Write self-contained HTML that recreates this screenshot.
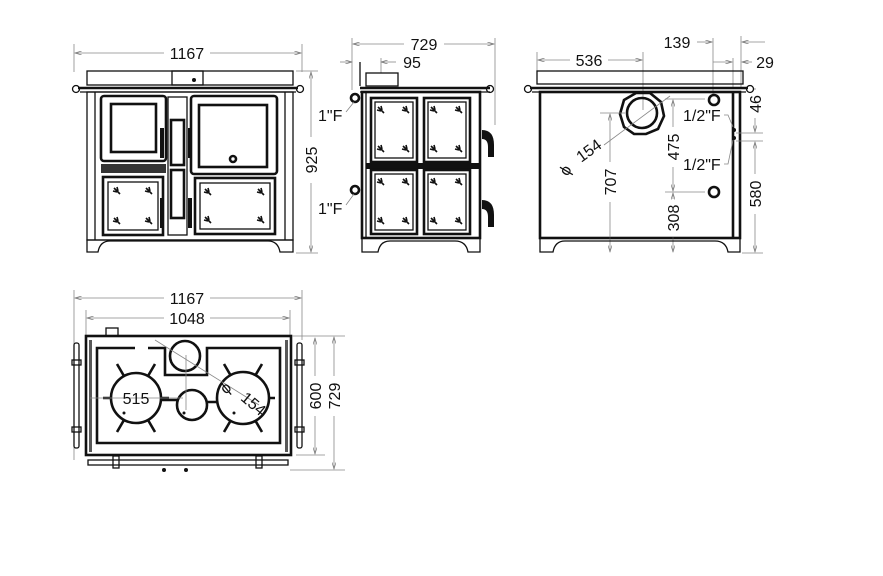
<!DOCTYPE html>
<html><head><meta charset="utf-8"><style>
html,body{margin:0;padding:0;background:#fff}
svg{display:block}
text{font-family:"Liberation Sans",sans-serif;font-size:16px;fill:#111}
.m{text-anchor:middle}
.d{stroke:#888;stroke-width:0.8;fill:none}
.k{stroke:#111;fill:none;stroke-width:1.3}
.K{stroke:#111;fill:none;stroke-width:2.6}
.f{fill:#111}
</style></head><body>
<svg width="883" height="576" viewBox="0 0 883 576" xmlns="http://www.w3.org/2000/svg">
<defs>
<marker id="a" viewBox="0 0 10 6" refX="10" refY="3" markerWidth="9" markerHeight="5" orient="auto-start-reverse"><path d="M0,0 L10,3 L0,6" fill="none" stroke="#777" stroke-width="1"/></marker>
<g id="leaf"><path d="M0,0 l6,6 M3,-1 l1,4 M-1,3 l4,1" stroke="#111" stroke-width="1.6"/></g>
<g id="panel"><rect x="0" y="0" width="46" height="64" class="K"/><rect x="4" y="4" width="38" height="56" class="k"/>
<use href="#leaf" x="7" y="9"/><use href="#leaf" x="32" y="9"/><use href="#leaf" x="7" y="48"/><use href="#leaf" x="32" y="48"/></g>
</defs>

<!-- ============ FRONT VIEW ============ -->
<line x1="74" y1="44" x2="74" y2="72" class="d"/><line x1="302" y1="44" x2="302" y2="72" class="d"/>
<line x1="75" y1="53" x2="164" y2="53" class="d" marker-start="url(#a)"/><line x1="210" y1="53" x2="301" y2="53" class="d" marker-end="url(#a)"/>
<text x="187" y="59" class="m">1167</text>
<rect x="87" y="71" width="206" height="14" class="k"/>
<rect x="172" y="71" width="31" height="14" class="k"/><circle cx="194" cy="80" r="2" class="f"/>
<line x1="78" y1="88" x2="298" y2="88" class="K"/><line x1="80" y1="92" x2="296" y2="92" class="k"/>
<circle cx="76" cy="89" r="3.5" class="k"/><circle cx="300" cy="89" r="3.5" class="k"/>
<rect x="87" y="92" width="206" height="148" class="k"/>
<line x1="95" y1="92" x2="95" y2="240" class="k"/><line x1="285" y1="92" x2="285" y2="240" class="k"/>
<rect x="101" y="96" width="65" height="65" rx="3" class="K"/><rect x="111" y="104" width="45" height="48" class="K"/>
<rect x="101" y="164" width="65" height="9" class="f" opacity="0.85"/>
<rect x="103" y="177" width="60" height="58" class="K"/><rect x="108" y="182" width="50" height="48" class="k"/>
<use href="#leaf" x="114" y="188"/><use href="#leaf" x="146" y="188"/><use href="#leaf" x="114" y="218"/><use href="#leaf" x="146" y="218"/>
<rect x="168" y="97" width="19" height="138" class="k"/><rect x="171" y="120" width="13" height="45" class="K"/><rect x="171" y="170" width="13" height="48" class="K"/>
<rect x="160" y="128" width="4" height="30" class="f"/><rect x="188" y="128" width="4" height="30" class="f"/>
<rect x="160" y="198" width="4" height="30" class="f"/><rect x="188" y="198" width="4" height="30" class="f"/>
<rect x="191" y="96" width="86" height="78" rx="3" class="K"/><rect x="199" y="105" width="68" height="62" class="K"/>
<circle cx="233" cy="159" r="3" class="K"/>
<rect x="195" y="178" width="80" height="56" class="K"/><rect x="200" y="183" width="70" height="46" class="k"/>
<use href="#leaf" x="205" y="189"/><use href="#leaf" x="258" y="189"/><use href="#leaf" x="205" y="217"/><use href="#leaf" x="258" y="217"/>
<path d="M87,240 H293 V252 H280 Q278,241 268,241 H110 Q100,241 98,252 H87 Z" class="k"/>
<line x1="296" y1="71" x2="318" y2="71" class="d"/><line x1="296" y1="253" x2="318" y2="253" class="d"/>
<line x1="311" y1="72" x2="311" y2="137" class="d" marker-start="url(#a)"/><line x1="311" y1="183" x2="311" y2="252" class="d" marker-end="url(#a)"/>
<text transform="translate(317,160) rotate(-90)" class="m">925</text>

<!-- ============ SIDE VIEW ============ -->
<line x1="352" y1="38" x2="352" y2="90" class="d"/><line x1="495" y1="38" x2="495" y2="125" class="d"/>
<line x1="353" y1="44" x2="404" y2="44" class="d" marker-start="url(#a)"/><line x1="444" y1="44" x2="494" y2="44" class="d" marker-end="url(#a)"/>
<text x="424" y="50" class="m">729</text>
<line x1="340" y1="62" x2="352" y2="62" class="d" marker-end="url(#a)"/><line x1="381" y1="62" x2="396" y2="62" class="d" marker-start="url(#a)"/>
<line x1="381" y1="58" x2="381" y2="73" class="d"/>
<text x="412" y="68" class="m">95</text>
<rect x="366" y="73" width="32" height="13" class="k"/>
<line x1="360" y1="62" x2="360" y2="86" class="k"/>
<line x1="360" y1="88" x2="490" y2="88" class="K"/><line x1="360" y1="92" x2="490" y2="92" class="k"/>
<circle cx="490" cy="89" r="3.5" class="k"/>
<rect x="362" y="92" width="118" height="146" class="K"/>
<line x1="366" y1="92" x2="366" y2="238" class="k"/>
<use href="#panel" x="371" y="98"/><use href="#panel" x="424" y="98"/>
<rect x="366" y="163" width="114" height="6" class="f"/>
<use href="#panel" x="371" y="170"/><use href="#panel" x="424" y="170"/>
<path d="M482,130 q12,0 12,15 v12 h-6 v-10 q0,-8 -6,-8 Z" class="f"/>
<path d="M482,200 q12,0 12,15 v12 h-6 v-10 q0,-8 -6,-8 Z" class="f"/>
<circle cx="355" cy="98" r="4" class="K"/><circle cx="355" cy="190" r="4" class="K"/>
<line x1="346" y1="112" x2="354" y2="102" class="d"/><line x1="346" y1="205" x2="354" y2="194" class="d"/>
<text x="318" y="121">1"F</text><text x="318" y="214">1"F</text>
<path d="M362,238 H480 V252 H468 Q466,241 455,241 H390 Q380,241 378,252 H362 Z" class="k"/>

<!-- ============ BACK VIEW ============ -->
<line x1="537" y1="52" x2="537" y2="72" class="d"/><line x1="643" y1="52" x2="643" y2="110" class="d"/>
<line x1="538" y1="60" x2="570" y2="60" class="d" marker-start="url(#a)"/><line x1="608" y1="60" x2="642" y2="60" class="d" marker-end="url(#a)"/>
<text x="589" y="66" class="m">536</text>
<line x1="713" y1="38" x2="713" y2="95" class="d"/><line x1="741" y1="36" x2="741" y2="88" class="d"/>
<line x1="697" y1="42" x2="712" y2="42" class="d" marker-end="url(#a)"/><line x1="742" y1="42" x2="765" y2="42" class="d" marker-start="url(#a)"/>
<text x="677" y="48" class="m">139</text>
<line x1="733" y1="58" x2="733" y2="88" class="d"/>
<line x1="713" y1="62" x2="732" y2="62" class="d" marker-end="url(#a)"/><line x1="742" y1="62" x2="752" y2="62" class="d" marker-start="url(#a)"/>
<text x="765" y="68" class="m">29</text>
<rect x="537" y="71" width="206" height="13" class="k"/>
<line x1="530" y1="88" x2="748" y2="88" class="K"/><line x1="532" y1="92" x2="746" y2="92" class="k"/>
<circle cx="528" cy="89" r="3.5" class="k"/><circle cx="750" cy="89" r="3.5" class="k"/>
<rect x="540" y="92" width="200" height="146" class="K"/>
<line x1="733" y1="92" x2="733" y2="238" class="K"/>
<polygon points="636,93 650,93 661,102 664,116 658,129 646,134 634,134 624,127 620,114 624,100" class="K"/>
<circle cx="642" cy="113" r="15" class="K"/>
<line x1="604" y1="145" x2="670" y2="96" class="d"/>
<text transform="translate(592,155) rotate(-36)" class="m">154</text>
<text transform="translate(570,173) rotate(-60)" class="m">ϕ</text>
<circle cx="714" cy="100" r="5" class="K"/><circle cx="714" cy="192" r="5" class="K"/>
<line x1="600" y1="113" x2="625" y2="113" class="d"/>
<line x1="610" y1="114" x2="610" y2="162" class="d" marker-start="url(#a)"/><line x1="610" y1="202" x2="610" y2="252" class="d" marker-end="url(#a)"/>
<text transform="translate(616,182) rotate(-90)" class="m">707</text>
<line x1="665" y1="99" x2="705" y2="99" class="d"/><line x1="665" y1="192" x2="705" y2="192" class="d"/>
<line x1="673" y1="100" x2="673" y2="127" class="d" marker-start="url(#a)"/><line x1="673" y1="167" x2="673" y2="191" class="d" marker-end="url(#a)"/>
<text transform="translate(679,147) rotate(-90)" class="m">475</text>
<line x1="673" y1="193" x2="673" y2="199" class="d" marker-start="url(#a)"/><line x1="673" y1="237" x2="673" y2="252" class="d" marker-end="url(#a)"/>
<text transform="translate(679,218) rotate(-90)" class="m">308</text>
<text x="683" y="121">1/2"F</text><text x="683" y="170">1/2"F</text>
<path d="M724,115 h4 l5,12 M724,164 h4 l5,-24" class="d"/>
<circle cx="734" cy="130" r="2" class="f"/><circle cx="734" cy="138" r="2" class="f"/>
<line x1="736" y1="133" x2="763" y2="133" class="d"/><line x1="736" y1="141" x2="763" y2="141" class="d"/><line x1="742" y1="253" x2="763" y2="253" class="d"/>
<line x1="755" y1="88" x2="755" y2="90" class="d"/><line x1="755" y1="118" x2="755" y2="132" class="d" marker-end="url(#a)"/>
<text transform="translate(761,104) rotate(-90)" class="m">46</text>
<line x1="755" y1="142" x2="755" y2="174" class="d" marker-start="url(#a)"/><line x1="755" y1="214" x2="755" y2="252" class="d" marker-end="url(#a)"/>
<text transform="translate(761,194) rotate(-90)" class="m">580</text>
<path d="M540,238 H740 V252 H728 Q726,241 715,241 H565 Q555,241 553,252 H540 Z" class="k"/>

<!-- ============ TOP VIEW ============ -->
<line x1="74" y1="290" x2="74" y2="460" class="d"/><line x1="302" y1="290" x2="302" y2="340" class="d"/>
<line x1="75" y1="298" x2="164" y2="298" class="d" marker-start="url(#a)"/><line x1="210" y1="298" x2="301" y2="298" class="d" marker-end="url(#a)"/>
<text x="187" y="304" class="m">1167</text>
<line x1="86" y1="310" x2="86" y2="336" class="d"/><line x1="290" y1="310" x2="290" y2="336" class="d"/>
<line x1="87" y1="318" x2="164" y2="318" class="d" marker-start="url(#a)"/><line x1="210" y1="318" x2="289" y2="318" class="d" marker-end="url(#a)"/>
<text x="187" y="324" class="m">1048</text>
<rect x="106" y="328" width="12" height="8" class="k"/>
<rect x="86" y="336" width="205" height="119" class="K"/>
<rect x="89" y="340" width="3" height="112" class="f" opacity="0.7"/><rect x="285" y="340" width="3" height="112" class="f" opacity="0.7"/>
<path d="M135,348 H97 V443 H280 V348 H207 V375 H165 V348 H148" class="K" stroke-width="3"/>
<circle cx="185" cy="356" r="15" class="K"/>
<circle cx="136" cy="398" r="25" class="K"/>
<circle cx="192" cy="405" r="15" class="K"/>
<circle cx="243" cy="398" r="26" class="K"/>
<g class="K" stroke-width="2.2">
<path d="M117,364 l7,12 M155,364 l-7,12 M117,432 l7,-12 M155,432 l-7,-12 M103,398 h8 M161,398 h8"/>
<path d="M224,364 l7,12 M262,364 l-7,12 M224,432 l7,-12 M262,432 l-7,-12 M269,398 h6"/>
<path d="M161,400 h16 M207,402 h10"/>
</g>
<circle cx="124" cy="413" r="1.5" class="f"/><circle cx="184" cy="413" r="1.5" class="f"/><circle cx="234" cy="413" r="1.5" class="f"/>
<line x1="155" y1="340" x2="259" y2="405" class="d"/>
<line x1="186" y1="355" x2="186" y2="410" class="d"/>
<line x1="90" y1="398" x2="183" y2="398" class="d"/>
<text x="136" y="404" class="m">515</text>
<text transform="translate(250,408) rotate(40)" class="m">154</text>
<text transform="translate(229,392) rotate(-40)" class="m">ϕ</text>
<rect x="74" y="343" width="5" height="105" rx="2" class="k"/><rect x="72" y="360" width="9" height="5" class="k"/><rect x="72" y="427" width="9" height="5" class="k"/>
<rect x="297" y="343" width="5" height="105" rx="2" class="k"/><rect x="295" y="360" width="9" height="5" class="k"/><rect x="295" y="427" width="9" height="5" class="k"/>
<rect x="88" y="460" width="200" height="5" class="k"/><rect x="113" y="456" width="6" height="12" class="k"/><rect x="256" y="456" width="6" height="12" class="k"/>
<circle cx="164" cy="470" r="2" class="f"/><circle cx="186" cy="470" r="2" class="f"/>
<line x1="292" y1="336" x2="345" y2="336" class="d"/><line x1="296" y1="455" x2="325" y2="455" class="d"/><line x1="290" y1="470" x2="345" y2="470" class="d"/>
<line x1="315" y1="338" x2="315" y2="376" class="d" marker-start="url(#a)"/><line x1="315" y1="416" x2="315" y2="454" class="d" marker-end="url(#a)"/>
<text transform="translate(321,396) rotate(-90)" class="m">600</text>
<line x1="334" y1="337" x2="334" y2="376" class="d" marker-start="url(#a)"/><line x1="334" y1="416" x2="334" y2="469" class="d" marker-end="url(#a)"/>
<text transform="translate(340,396) rotate(-90)" class="m">729</text>
</svg>
</body></html>
